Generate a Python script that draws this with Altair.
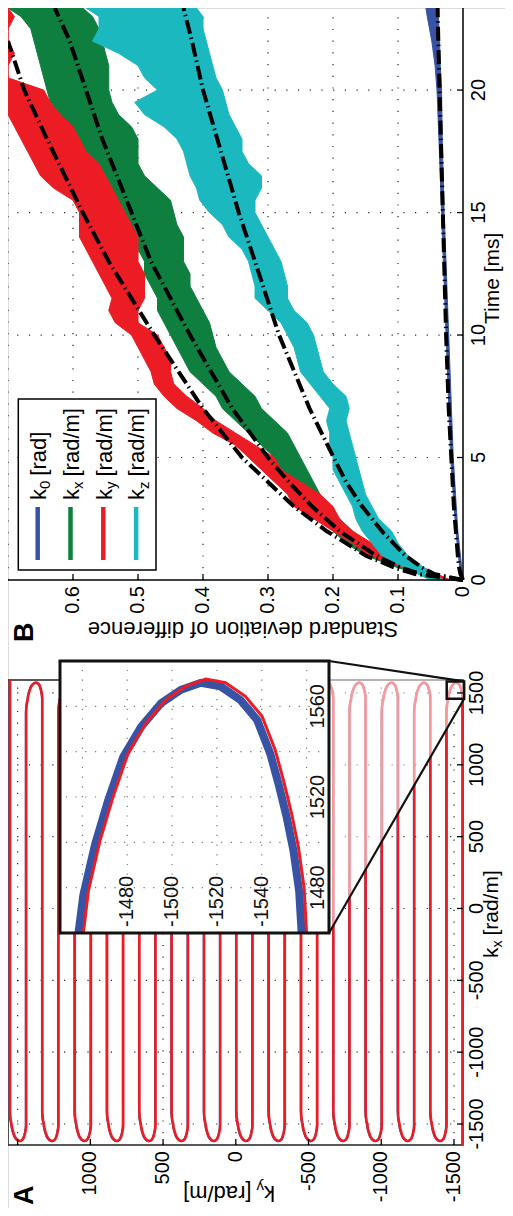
import altair as alt
import pandas as pd

FONT = "Liberation Sans"
BLUE, GREEN, RED, CYAN = "#3953a4", "#0e7f3f", "#ec1c24", "#1bb9bf"

# ---------------- Panel B values ----------------
t_band = [0.0, 0.5, 1.0, 1.5, 2.0, 2.5, 3.0, 3.5,
          4.0, 4.5, 5.0, 5.5, 6.0, 6.5, 7.0, 7.5,
          8.0, 8.5, 9.0, 9.5, 10.0, 10.5, 11.0, 11.5,
          12.0, 12.5, 13.0, 13.5, 14.0, 14.5, 15.0, 15.5,
          16.0, 16.5, 17.0, 17.5, 18.0, 18.5, 19.0, 19.5,
          20.0, 20.5, 21.0, 21.5, 22.0, 22.5, 23.0, 23.5]
kx_lo = [0.020, 0.070, 0.120, 0.150, 0.170, 0.190, 0.210, 0.220,
         0.230, 0.240, 0.250, 0.260, 0.270, 0.290, 0.310, 0.320,
         0.340, 0.360, 0.370, 0.380, 0.385, 0.390, 0.400, 0.410,
         0.420, 0.420, 0.430, 0.430, 0.430, 0.440, 0.445, 0.450,
         0.470, 0.490, 0.500, 0.500, 0.500, 0.510, 0.530, 0.540,
         0.545, 0.545, 0.545, 0.550, 0.555, 0.560, 0.570, 0.585]
kx_hi = [0.030, 0.100, 0.150, 0.180, 0.200, 0.220, 0.240, 0.250,
         0.270, 0.290, 0.290, 0.310, 0.330, 0.350, 0.370, 0.380,
         0.400, 0.420, 0.430, 0.440, 0.450, 0.460, 0.470, 0.470,
         0.480, 0.490, 0.490, 0.500, 0.520, 0.530, 0.540, 0.545,
         0.560, 0.580, 0.585, 0.590, 0.600, 0.610, 0.620, 0.635,
         0.640, 0.645, 0.650, 0.655, 0.660, 0.665, 0.680, 0.700]
ky_lo = [0.020, 0.060, 0.100, 0.140, 0.170, 0.190, 0.200, 0.220,
         0.250, 0.280, 0.290, 0.320, 0.350, 0.380, 0.400, 0.425,
         0.445, 0.450, 0.450, 0.460, 0.470, 0.500, 0.500, 0.490,
         0.490, 0.490, 0.500, 0.500, 0.500, 0.510, 0.520, 0.530,
         0.540, 0.550, 0.560, 0.580, 0.590, 0.600, 0.620, 0.635,
         0.645, 0.700, 0.710, 0.690, 0.720, 0.720, 0.690, 0.720]
ky_hi = [0.030, 0.090, 0.145, 0.170, 0.200, 0.230, 0.260, 0.270,
         0.290, 0.310, 0.330, 0.350, 0.385, 0.410, 0.440, 0.460,
         0.475, 0.480, 0.490, 0.500, 0.510, 0.535, 0.545, 0.540,
         0.550, 0.560, 0.570, 0.580, 0.590, 0.590, 0.590, 0.600,
         0.630, 0.650, 0.660, 0.670, 0.680, 0.690, 0.700, 0.700,
         0.710, 0.750, 0.780, 0.760, 0.800, 0.800, 0.780, 0.800]
kz_lo = [0.030, 0.060, 0.085, 0.100, 0.110, 0.130, 0.140, 0.150,
         0.155, 0.160, 0.165, 0.170, 0.175, 0.180, 0.175, 0.180,
         0.200, 0.215, 0.220, 0.225, 0.230, 0.240, 0.260, 0.270,
         0.270, 0.275, 0.280, 0.290, 0.300, 0.310, 0.320, 0.320,
         0.310, 0.310, 0.330, 0.340, 0.340, 0.350, 0.360, 0.365,
         0.370, 0.380, 0.385, 0.390, 0.395, 0.400, 0.400, 0.410]
kz_hi = [0.050, 0.090, 0.125, 0.140, 0.155, 0.165, 0.170, 0.180,
         0.190, 0.200, 0.200, 0.205, 0.205, 0.210, 0.205, 0.220,
         0.235, 0.250, 0.255, 0.260, 0.270, 0.280, 0.300, 0.320,
         0.320, 0.325, 0.330, 0.340, 0.360, 0.370, 0.390, 0.405,
         0.410, 0.420, 0.425, 0.430, 0.440, 0.460, 0.490, 0.505,
         0.470, 0.490, 0.500, 0.530, 0.570, 0.560, 0.560, 0.580]
t_k0 = [0, 2, 5, 10, 15, 18, 20, 21, 22, 23, 23.5]
k0_lo = [0.000, 0.008, 0.015, 0.022, 0.029, 0.032, 0.033, 0.035, 0.036, 0.038, 0.040]
k0_hi = [0.003, 0.011, 0.019, 0.026, 0.033, 0.037, 0.040, 0.043, 0.048, 0.055, 0.057]

t_fit = [0, 0.25, 0.5, 1, 2, 3, 4, 5, 7, 10, 13, 15, 18, 20, 22, 23.5]
fit_ky = [0, 0.075, 0.105, 0.150, 0.210, 0.260, 0.300, 0.340, 0.400, 0.475, 0.545, 0.585, 0.640, 0.675, 0.700, None]
fit_kx = [0, 0.065, 0.095, 0.134, 0.190, 0.232, 0.268, 0.300, 0.355, 0.420, 0.480, 0.510, 0.555, 0.580, 0.605, 0.628]
fit_kz = [0, 0.045, 0.063, 0.089, 0.125, 0.155, 0.180, 0.199, 0.236, 0.283, 0.320, 0.345, 0.378, 0.400, 0.417, 0.430]
fit_k0 = [0, 0.004, 0.006, 0.008, 0.011, 0.014, 0.016, 0.018, 0.022, 0.026, 0.029, 0.031, 0.034, 0.036, 0.038, 0.039]

std_ticks = [0, 0.1, 0.2, 0.3, 0.4, 0.5, 0.6, 0.7]
std_labels = ["0", "0.1", "0.2", "0.3", "0.4", "0.5", "0.6"]
time_ticks = [0, 5, 10, 15, 20]
time_labels = ["0", "5", "10", "15", "20"]
legend_subs = ["0", "x", "y", "z"]
legend_units = ["[rad]", "[rad/m]", "[rad/m]", "[rad/m]"]
legend_colors = [BLUE, GREEN, RED, CYAN]

# ---------------- Panel A values ----------------
line_ky = [1552, 1441, 1330, 1219, 1107, 996, 885, 774, 663, 552, 441, 329, 218, 107, -4,
           -115, -226, -337, -449, -560, -671, -782, -893, -1004, -1115, -1227, -1338, -1449, -1560]
# shape of one turn (fraction of the way to the next line, depth below the peak)
turn_frac = [0, 0.013, 0.045, 0.103, 0.123, 0.170, 0.222, 0.283, 0.355, 0.435, 0.515,
             0.595, 0.674, 0.754, 0.821, 0.874, 0.907, 0.940, 0.967, 0.990, 1.0, 1.0]
turn_depth = [210, 175, 145, 112, 93.5, 71.2, 52, 32.7, 19.4, 9, 3.1,
              0, 1.6, 7.6, 16.4, 31.3, 44.6, 59.4, 74, 92, 112, 210]
top_peak, bottom_peak = 1572, -1618
traj_start_kx, traj_end_kx = 1590, -1646
blue_off_ky, blue_off_kx = 2.2, -1.6

ky_grid = [1500, 1000, 500, 0, -500, -1000, -1500]
ky_lab_vals = [1000, 500, 0, -500, -1000, -1500]
ky_labels = ["1000", "500", "0", "-500", "-1000", "-1500"]
kx_grid = [-1500, -1000, -500, 0, 500, 1000, 1500]
kx_labels = ["-1500", "-1000", "-500", "0", "500", "1000", "1500"]
inset_ky = [-1570, -1450]
inset_kx = [1460, 1580]
inset_grid_ky = [-1560, -1540, -1520, -1500, -1480, -1460]
inset_grid_kx = [1480, 1500, 1520, 1540, 1560]
inset_lab_ky = [-1480, -1500, -1520, -1540]
inset_lab_kx = [1480, 1520, 1560]

# ---------------- layout (pixels inside the 497 x 1200 drawing) ----------------
W, H = 497, 1200
PW = 455                     # plot width of both panels
B_TOP, B_BOT = 0, 572        # panel B plot area
A_TOP, A_BOT = 672, 1137     # panel A plot area
INSET = (52, 321, 653, 925)  # x0, x1, y0, y1
STD_MAX, T_MAX = 0.7, 23.35
KYA = [-1562, 1566]
KXA = [-1646, 1590]
ONE = pd.DataFrame({"a": [0]})
GRID = dict(color="black", strokeWidth=1.2, strokeDash=[1.2, 10.5], opacity=0.85)


def label(x, y, text, size=22, angle=270, align="left", baseline="alphabetic",
          dx=0, dy=0, weight="normal"):
    return alt.Chart(ONE).mark_text(text=text, font=FONT, fontSize=size, angle=angle,
                                    align=align, baseline=baseline, dx=dx, dy=dy,
                                    fontWeight=weight, color="black").encode(
        x=alt.value(x), y=alt.value(y))


def k_label(x, y, sub, rest, angle=270, size=22):
    sc = size / 22.0
    sub_w = (8.3 if sub == "0" else 7.5) * sc
    return [label(x, y, "k", size=size, angle=angle),
            label(x, y, sub, size=15 * sc, angle=angle, dx=11 * sc, dy=4.2 * sc),
            label(x, y, rest, size=size, angle=angle, dx=11 * sc + sub_w + 5 * sc)]


def make_xy(sx, sy):
    def X(f):
        return alt.X(f, type="quantitative", scale=sx, axis=None)

    def Y(f):
        return alt.Y(f, type="quantitative", scale=sy, axis=None)
    return X, Y


# ================= Panel B =================
XB, YB = make_xy(alt.Scale(domain=[0, STD_MAX], range=[PW, 0], zero=False, nice=False),
                 alt.Scale(domain=[0, T_MAX], range=[B_BOT, B_TOP], zero=False, nice=False))


def band(t, lo, hi, color):
    # display copy limited to the visible frame
    df = pd.DataFrame({"t": t, "lo": lo, "hi": hi})
    df["t"] = df["t"].clip(upper=T_MAX)
    df["lo"] = df["lo"].clip(upper=STD_MAX)
    df["hi"] = df["hi"].clip(upper=STD_MAX)
    return alt.Chart(df).mark_area(orient="horizontal", color=color,
                                   stroke=color, strokeWidth=1).encode(
        y=YB("t"), x=XB("lo"), x2=alt.X2("hi"))


def fit(vals):
    df = pd.DataFrame({"t": t_fit, "s": vals}).dropna()
    df["t"] = df["t"].clip(upper=T_MAX)
    return alt.Chart(df).mark_line(color="black", strokeWidth=4,
                                   strokeDash=[14, 4, 1.5, 4]).encode(
        x=XB("s"), y=YB("t"), order=alt.Order("t:Q"))


layersB = [
    alt.Chart(pd.DataFrame({"v": std_ticks[1:], "a": 0.0, "b": T_MAX})).mark_rule(**GRID).encode(
        x=XB("v"), y=YB("a"), y2=alt.Y2("b")),
    alt.Chart(pd.DataFrame({"v": time_ticks[1:], "a": 0.0, "b": STD_MAX})).mark_rule(**GRID).encode(
        y=YB("v"), x=XB("a"), x2=alt.X2("b")),
    band(t_k0, k0_lo, k0_hi, BLUE),
    band(t_band, kx_lo, kx_hi, GREEN),
    band(t_band, ky_lo, ky_hi, RED),
    band(t_band, kz_lo, kz_hi, CYAN),
    fit(fit_k0), fit(fit_kx), fit(fit_ky), fit(fit_kz),
    alt.Chart(pd.DataFrame({"x0": [0.0, 0.0], "x1": [STD_MAX, 0.0],
                            "y0": [0.0, 0.0], "y1": [0.0, T_MAX]})).mark_rule(
        color="black", strokeWidth=1.5).encode(
        x=XB("x0"), x2=alt.X2("x1"), y=YB("y0"), y2=alt.Y2("y1")),
    alt.Chart(pd.DataFrame({"v": std_ticks[1:-1]})).mark_rule(color="black", strokeWidth=1.3).encode(
        x=XB("v"), y=alt.value(B_BOT), y2=alt.value(B_BOT - 6)),
    alt.Chart(pd.DataFrame({"v": time_ticks[1:]})).mark_rule(color="black", strokeWidth=1.3).encode(
        y=YB("v"), x=alt.value(PW), x2=alt.value(PW - 6)),
    alt.Chart(pd.DataFrame({"v": std_ticks[:-1], "lab": std_labels})).mark_text(
        font=FONT, fontSize=20, angle=270, align="right", baseline="middle", color="black").encode(
        x=XB("v"), y=alt.value(B_BOT + 6), text="lab:N"),
    alt.Chart(pd.DataFrame({"v": time_ticks, "lab": time_labels})).mark_text(
        font=FONT, fontSize=20, angle=270, align="center", baseline="top", color="black").encode(
        y=YB("v"), x=alt.value(PW + 5.5), text="lab:N"),
]
groupB = alt.layer(*layersB)

textsB = [alt.Chart(ONE).mark_rect(fill="white", stroke="black", strokeWidth=1.5).encode(
    x=alt.value(10.3), x2=alt.value(148), y=alt.value(391), y2=alt.value(562))]
for i, (sub, unit, col) in enumerate(zip(legend_subs, legend_units, legend_colors)):
    lx = 29.7 + 32.8 * i
    textsB.append(alt.Chart(ONE).mark_rule(color=col, strokeWidth=4.5).encode(
        x=alt.value(lx), y=alt.value(499), y2=alt.value(552)))
    textsB += k_label(lx + 8.3, 492, sub, unit)
textsB.append(label(491, 316, "Time [ms]", size=21))
textsB.append(label(235, 614, "Standard deviation of difference", angle=180, align="center"))
textsB.append(label(25, 634, "B", size=27, weight="bold"))

# ================= Panel A =================
XA, YA = make_xy(alt.Scale(domain=KYA, range=[PW, 0], zero=False, nice=False),
                 alt.Scale(domain=KXA, range=[A_BOT, A_TOP], zero=False, nice=False))

pts = [(line_ky[0], traj_start_kx)]
for j in range(len(line_ky) - 1):
    a, b = line_ky[j], line_ky[j + 1]
    for f, d in zip(turn_frac, turn_depth):
        kx = bottom_peak + d if j % 2 == 0 else top_peak - d
        pts.append((a + f * (b - a), kx))
pts.append((line_ky[-1], traj_end_kx))
traj = pd.DataFrame(pts, columns=["ky", "kx"])
traj["i"] = range(len(traj))
traj_b = traj.assign(ky=traj.ky + blue_off_ky, kx=traj.kx + blue_off_kx)
traj_b["kx"] = traj_b["kx"].clip(lower=KXA[0])


def ky_at(px):
    return KYA[1] - px / PW * (KYA[1] - KYA[0])


def kx_at(py):
    return KXA[1] - (py - A_TOP) / (A_BOT - A_TOP) * (KXA[1] - KXA[0])


cone = pd.DataFrame({"ky": [ky_at(INSET[1]), inset_ky[0]],
                     "top": [kx_at(INSET[2]), inset_kx[1]],
                     "bot": [kx_at(INSET[3]), inset_kx[0]]})
conn = pd.DataFrame({"x": [ky_at(INSET[1])] * 2, "y": [kx_at(INSET[2]), kx_at(INSET[3])],
                     "x2": [inset_ky[0]] * 2, "y2": [inset_kx[1], inset_kx[0]]})
sbox = pd.DataFrame({"x0": [inset_ky[0]], "x1": [inset_ky[1]], "y0": [inset_kx[0]], "y1": [inset_kx[1]]})

layersA = [
    alt.Chart(pd.DataFrame({"v": ky_grid, "a": KXA[0], "b": KXA[1]})).mark_rule(**GRID).encode(
        x=XA("v"), y=YA("a"), y2=alt.Y2("b")),
    alt.Chart(pd.DataFrame({"v": kx_grid, "a": KYA[0], "b": KYA[1]})).mark_rule(**GRID).encode(
        y=YA("v"), x=XA("a"), x2=alt.X2("b")),
    alt.Chart(pd.DataFrame({"x0": [KYA[0]], "x1": [KYA[1]], "y0": [KXA[0]], "y1": [KXA[1]]})).mark_rect(
        filled=False, stroke="#222", strokeWidth=1.5).encode(
        x=XA("x0"), x2=alt.X2("x1"), y=YA("y0"), y2=alt.Y2("y1")),
    alt.Chart(traj_b).mark_line(color=BLUE, strokeWidth=2.2).encode(
        x=XA("ky"), y=YA("kx"), order=alt.Order("i:Q")),
    alt.Chart(traj).mark_line(color=RED, strokeWidth=2.6).encode(
        x=XA("ky"), y=YA("kx"), order=alt.Order("i:Q")),
    alt.Chart(cone).mark_area(orient="vertical", color="white", opacity=0.55).encode(
        x=XA("ky"), y=YA("top"), y2=alt.Y2("bot")),
    alt.Chart(conn).mark_rule(color="#111", strokeWidth=2.2).encode(
        x=XA("x"), y=YA("y"), x2=alt.X2("x2"), y2=alt.Y2("y2")),
    alt.Chart(sbox).mark_rect(filled=False, stroke="#111", strokeWidth=2.5).encode(
        x=XA("x0"), x2=alt.X2("x1"), y=YA("y0"), y2=alt.Y2("y1")),
    alt.Chart(pd.DataFrame({"v": ky_grid})).mark_rule(color="black", strokeWidth=1.3).encode(
        x=XA("v"), y=alt.value(A_BOT), y2=alt.value(A_BOT - 6)),
    alt.Chart(pd.DataFrame({"v": kx_grid})).mark_rule(color="black", strokeWidth=1.3).encode(
        y=YA("v"), x=alt.value(PW), x2=alt.value(PW - 6)),
    alt.Chart(pd.DataFrame({"v": ky_lab_vals, "lab": ky_labels})).mark_text(
        font=FONT, fontSize=20, angle=270, align="right", baseline="middle", color="black").encode(
        x=XA("v"), y=alt.value(A_BOT + 6), text="lab:N"),
    alt.Chart(pd.DataFrame({"v": kx_grid, "lab": kx_labels})).mark_text(
        font=FONT, fontSize=20, angle=270, align="center", baseline="top", color="black").encode(
        y=YA("v"), x=alt.value(PW + 3.5), text="lab:N"),
]
groupA = alt.layer(*layersA)

# inset
XI, YI = make_xy(alt.Scale(domain=inset_ky, range=[INSET[1], INSET[0]], zero=False, nice=False),
                 alt.Scale(domain=inset_kx, range=[INSET[3], INSET[2]], zero=False, nice=False))
in_mask = (traj.kx >= inset_kx[0] - 0.01) & (traj.ky <= inset_ky[1])
red_in = traj[in_mask]
blue_in = traj_b[in_mask].copy()
blue_in["kx"] = blue_in["kx"].clip(lower=inset_kx[0])

groupI = alt.layer(
    alt.Chart(sbox).mark_rect(fill="white").encode(
        x=XI("x0"), x2=alt.X2("x1"), y=YI("y0"), y2=alt.Y2("y1")),
    alt.Chart(pd.DataFrame({"v": inset_grid_ky, "lo": inset_kx[0], "hi": inset_kx[1]})).mark_rule(
        color="#777", strokeWidth=1.2, strokeDash=[1.2, 8.5]).encode(
        x=XI("v"), y=YI("lo"), y2=alt.Y2("hi")),
    alt.Chart(pd.DataFrame({"v": inset_grid_kx, "lo": inset_ky[0], "hi": inset_ky[1]})).mark_rule(
        color="#777", strokeWidth=1.2, strokeDash=[1.2, 8.5]).encode(
        y=YI("v"), x=XI("lo"), x2=alt.X2("hi")),
    alt.Chart(blue_in).mark_line(color=BLUE, strokeWidth=8).encode(
        x=XI("ky"), y=YI("kx"), order=alt.Order("i:Q")),
    alt.Chart(red_in).mark_line(color=RED, strokeWidth=3).encode(
        x=XI("ky"), y=YI("kx"), order=alt.Order("i:Q")),
    alt.Chart(pd.DataFrame({"v": inset_lab_ky, "y": inset_kx[0],
                            "lab": [str(v) for v in inset_lab_ky]})).mark_text(
        font=FONT, fontSize=20, angle=270, align="left", baseline="middle", dx=6, color="#111").encode(
        x=XI("v"), y=YI("y"), text="lab:N"),
    alt.Chart(pd.DataFrame({"v": inset_lab_kx, "x": inset_ky[0],
                            "lab": [str(v) for v in inset_lab_kx]})).mark_text(
        font=FONT, fontSize=20, angle=270, align="center", baseline="alphabetic", dy=-5, color="#111").encode(
        y=YI("v"), x=XI("x"), text="lab:N"),
    alt.Chart(sbox).mark_rect(filled=False, stroke="#111", strokeWidth=3).encode(
        x=XI("x0"), x2=alt.X2("x1"), y=YI("y0"), y2=alt.Y2("y1")),
)

textsA = k_label(489.5, A_TOP + 278, "x", "[rad/m]", size=21) + \
    k_label(267, A_TOP + 506, "y", "[rad/m]", angle=180)
textsA.append(label(25, A_TOP + 525, "A", size=27, weight="bold"))

chart = alt.layer(groupB, groupA, groupI, *textsB, *textsA).resolve_scale(
    x="independent", y="independent").properties(
    width=W, height=H, padding=0, autosize=alt.AutoSizeParams(type="none")).configure_view(
    strokeOpacity=0).configure(background="white")

chart.save("out.html", embed_options={"renderer": "svg", "actions": False})
